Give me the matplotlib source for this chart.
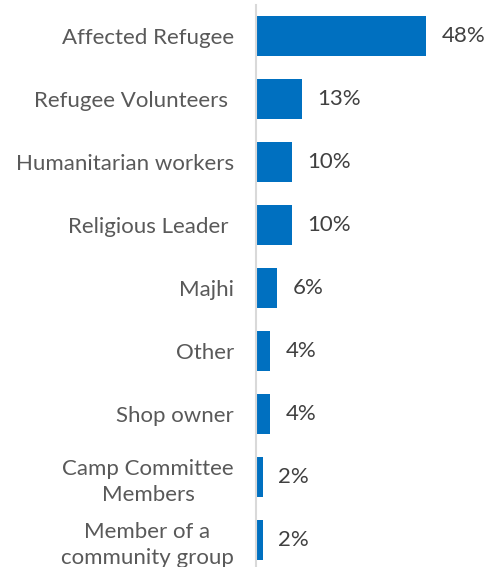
import matplotlib

matplotlib.use("Agg")
import matplotlib.pyplot as plt

categories = [
    "Affected Refugee",
    "Refugee Volunteers ",
    "Humanitarian workers",
    "Religious Leader ",
    "Majhi",
    "Other",
    "Shop owner",
    "Camp Committee\nMembers",
    "Member of a\ncommunity group",
]
values = [48, 13, 10, 10, 6, 4, 4, 2, 2]

plt.rcParams["font.family"] = ["Lato", "DejaVu Sans"]

figure = plt.figure(figsize=(4.88, 5.67), dpi=100)
# axes: left edge at 256 px, top at ~4.5 px, category height 63 px
axis = figure.add_axes([256 / 488, (567 - 571.5) / 567, 232 / 488, 567 / 567])

positions = list(range(len(categories)))
axis.barh(positions, values, height=0.63, color="#0070C0")
axis.set_ylim(len(categories) - 0.5, -0.5)
axis.set_xlim(0, 232 / 3.55)

for pos, val in zip(positions, values):
    axis.annotate(f"{val}%", (val, pos), xytext=(11, 0), textcoords="offset points",
                  ha="left", va="center", fontsize=16, color="#404040")

axis.set_yticks(positions, categories, fontsize=16, color="#595959", linespacing=1.35)
for label in axis.get_yticklabels():
    label.set_multialignment("center")
axis.tick_params(axis="y", length=0, pad=16)
axis.set_xticks([])
for side in ["top", "right", "bottom"]:
    axis.spines[side].set_visible(False)
axis.spines["left"].set_color("#D9D9D9")
axis.spines["left"].set_linewidth(1.5)

figure.savefig("out.png", dpi=100)
